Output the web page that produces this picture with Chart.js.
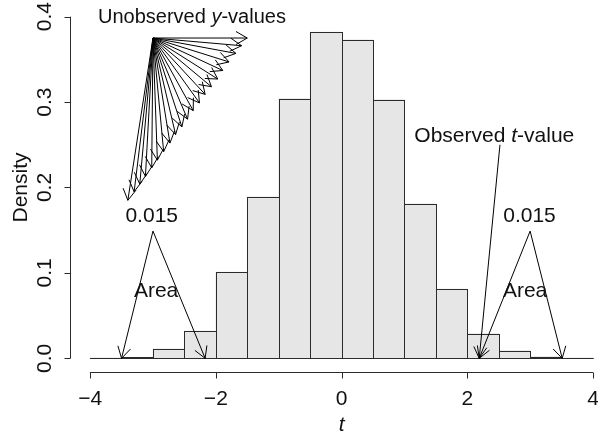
<!DOCTYPE html>
<html>
<head>
<meta charset="utf-8">
<script src="https://cdn.jsdelivr.net/npm/chart.js@4.4.1/dist/chart.umd.min.js"></script>
<style>
  html, body { margin: 0; padding: 0; background: #ffffff; }
  canvas { display: block; }
</style>
</head>
<body>
<canvas id="chart" width="598" height="437"></canvas>
<script>
// Histogram of the t statistic (bin width 0.5)
const binLeft = [-4, -3.5, -3, -2.5, -2, -1.5, -1, -0.5, 0, 0.5, 1, 1.5, 2, 2.5, 3, 3.5];
const binWidth = 0.5;
const density = [0.0006, 0.0012, 0.011, 0.032, 0.101, 0.189, 0.304, 0.382, 0.373, 0.303, 0.181, 0.081, 0.029, 0.009, 0.002, 0.0006];

// Axis ticks
const xTicks = [-4, -2, 0, 2, 4];
const xTickLabels = ['\u22124', '\u22122', '0', '2', '4'];
const yTicks = [0, 0.1, 0.2, 0.3, 0.4];
const yTickLabels = ['0.0', '0.1', '0.2', '0.3', '0.4'];

// Fan of arrows pointing to unobserved y-values
const fanOrigin = [-3.0, 0.375];
const fanTipX = [-1.50, -1.59, -1.68, -1.79, -1.89, -1.97, -2.07, -2.17, -2.26, -2.36, -2.45, -2.54, -2.64, -2.73, -2.83, -2.93, -3.02, -3.12, -3.21, -3.30, -3.40];
const fanTipY = [0.375, 0.366, 0.357, 0.347, 0.337, 0.327, 0.318, 0.309, 0.299, 0.290, 0.280, 0.271, 0.262, 0.252, 0.242, 0.232, 0.223, 0.213, 0.204, 0.195, 0.185];

// Tail areas beyond the observed t-value
const tailArea = '0.015';
const observedT = 2.19;
const leftTailApex = [-3.0, 0.149];
const leftTailTips = [-3.5, -2.17];
const rightTailApex = [3.0, 0.149];
const rightTailTips = [2.19, 3.51];

const FONT = '"Liberation Sans", Arial, Helvetica, sans-serif';
const FS = 21;
const INK = '#111111';
const LINE = '#2b2b2b';

function arrow(ctx, x0, y0, x1, y1) {
  const head = 13, ang = Math.PI / 6;
  const a = Math.atan2(y1 - y0, x1 - x0);
  ctx.beginPath();
  ctx.moveTo(x0, y0);
  ctx.lineTo(x1, y1);
  ctx.moveTo(x1 - head * Math.cos(a - ang), y1 - head * Math.sin(a - ang));
  ctx.lineTo(x1, y1);
  ctx.lineTo(x1 - head * Math.cos(a + ang), y1 - head * Math.sin(a + ang));
  ctx.stroke();
}

// draw text centred on (px, py), vertically centred on the cap height
function centredText(ctx, parts, px, py, size) {
  const fs = size || FS;
  let total = 0;
  const widths = parts.map(p => {
    ctx.font = (p.italic ? 'italic ' : '') + fs + 'px ' + FONT;
    const w = ctx.measureText(p.text).width;
    total += w;
    return w;
  });
  let x = px - total / 2;
  ctx.textAlign = 'left';
  ctx.textBaseline = 'alphabetic';
  parts.forEach((p, i) => {
    ctx.font = (p.italic ? 'italic ' : '') + fs + 'px ' + FONT;
    ctx.fillText(p.text, x, py + fs * 0.36);
    x += widths[i];
  });
}

const decorations = {
  id: 'decorations',
  afterDatasetsDraw(chart) {
    const ctx = chart.ctx;
    const xs = chart.scales.x, ys = chart.scales.y;
    const X = v => xs.getPixelForValue(v);
    const Y = v => ys.getPixelForValue(v);

    ctx.save();
    // bar outlines
    ctx.strokeStyle = LINE;
    ctx.lineWidth = 1;
    const meta = chart.getDatasetMeta(0);
    meta.data.forEach(bar => {
      const left = Math.round(bar.x - bar.width / 2) + 0.5;
      const right = Math.round(bar.x + bar.width / 2) + 0.5;
      const top = Math.round(bar.y) + 0.5;
      const base = Math.round(bar.base) + 0.5;
      ctx.strokeRect(left, top, right - left, base - top);
    });
    // histogram baseline
    const base0 = Math.round(Y(0)) + 0.5;
    ctx.beginPath();
    ctx.moveTo(X(binLeft[0]), base0);
    ctx.lineTo(X(binLeft[binLeft.length - 1] + binWidth), base0);
    ctx.stroke();

    // axes (R style: line spans first to last tick)
    const ca = chart.chartArea;
    const axY = Math.round(ca.bottom) + 0.5;
    const axX = Math.round(ca.left) + 0.5;
    ctx.strokeStyle = LINE;
    ctx.beginPath();
    ctx.moveTo(X(xTicks[0]), axY);
    ctx.lineTo(X(xTicks[xTicks.length - 1]), axY);
    xTicks.forEach(t => {
      const px = Math.round(X(t)) + 0.5;
      ctx.moveTo(px, axY);
      ctx.lineTo(px, axY + 6);
    });
    ctx.moveTo(axX, Y(yTicks[0]));
    ctx.lineTo(axX, Y(yTicks[yTicks.length - 1]));
    yTicks.forEach(t => {
      const py = Math.round(Y(t)) + 0.5;
      ctx.moveTo(axX, py);
      ctx.lineTo(axX - 6, py);
    });
    ctx.stroke();

    ctx.fillStyle = INK;
    ctx.font = FS + 'px ' + FONT;
    ctx.textAlign = 'center';
    ctx.textBaseline = 'alphabetic';
    xTicks.forEach((t, i) => {
      ctx.fillText(xTickLabels[i], X(t), 397 + FS * 0.36);
    });
    yTicks.forEach((t, i) => {
      ctx.save();
      ctx.translate(43 + FS * 0.36, Y(t));
      ctx.rotate(-Math.PI / 2);
      ctx.fillText(yTickLabels[i], 0, 0);
      ctx.restore();
    });
    // axis titles
    ctx.save();
    ctx.translate(19 + FS * 0.36, (ca.top + ca.bottom) / 2);
    ctx.rotate(-Math.PI / 2);
    ctx.fillText('Density', 0, 0);
    ctx.restore();
    centredText(ctx, [{ text: 't', italic: true }], X(0), 423);

    // fan of unobserved y-values
    ctx.strokeStyle = '#000000';
    ctx.lineWidth = 1;
    fanTipX.forEach((tx, i) => {
      arrow(ctx, X(fanOrigin[0]), Y(fanOrigin[1]), X(tx), Y(fanTipY[i]));
    });
    centredText(ctx, [{ text: 'Unobserved ' }, { text: 'y', italic: true }, { text: '-values' }], X(-2.38), Y(0.401), 20);

    // tail areas
    [[leftTailApex, leftTailTips], [rightTailApex, rightTailTips]].forEach(([apex, tips]) => {
      tips.forEach(t => arrow(ctx, X(apex[0]), Y(apex[1]), X(t), Y(0)));
    });
    centredText(ctx, [{ text: tailArea }], X(-3.02), Y(0.169));
    centredText(ctx, [{ text: tailArea }], X(2.99), Y(0.169));
    centredText(ctx, [{ text: 'Area' }], X(-2.95), Y(0.081));
    centredText(ctx, [{ text: 'Area' }], X(2.92), Y(0.081));

    // observed t-value
    arrow(ctx, X(2.52), Y(0.25), X(observedT), Y(0));
    centredText(ctx, [{ text: 'Observed ' }, { text: 't', italic: true }, { text: '-value' }], X(2.43), Y(0.262));
    ctx.restore();
  }
};

new Chart(document.getElementById('chart'), {
  type: 'bar',
  data: {
    datasets: [{
      data: binLeft.map((b, i) => ({ x: b + binWidth / 2, y: density[i] })),
      backgroundColor: '#e6e6e6',
      borderWidth: 0,
      barPercentage: 1,
      categoryPercentage: 1
    }]
  },
  options: {
    responsive: false,
    animation: false,
    events: [],
    layout: { padding: { left: 70, right: 5, top: 3, bottom: 65 } },
    plugins: { legend: { display: false }, tooltip: { enabled: false } },
    scales: {
      x: { type: 'linear', min: -4.32, max: 4, display: false, offset: false },
      y: { type: 'linear', min: -0.016, max: 0.416, display: false }
    }
  },
  plugins: [decorations]
});
</script>
</body>
</html>
